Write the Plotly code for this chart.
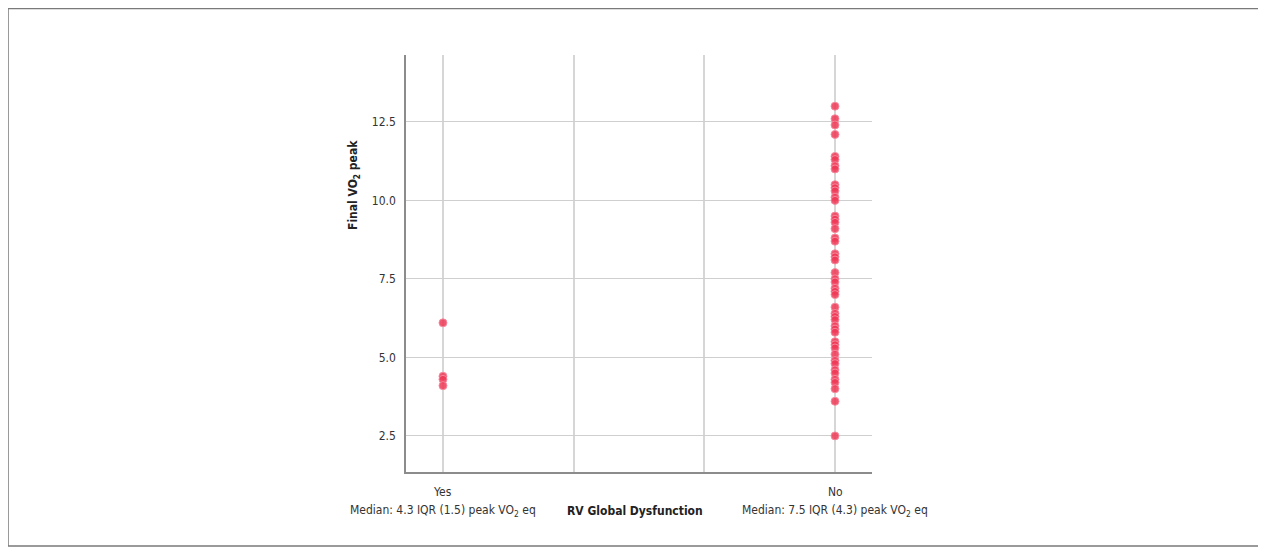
import plotly.graph_objects as go

categories = ["Yes", "No"]
cat_pos = [0, 3]
yes_values = [6.1, 4.4, 4.3, 4.1]
no_values = [13.0, 12.6, 12.4, 12.1, 11.4, 11.3, 11.1, 11.0, 10.5, 10.4, 10.3, 10.1, 10.0,
             9.5, 9.4, 9.3, 9.1, 8.8, 8.7, 8.3, 8.2, 8.1, 7.7, 7.5, 7.4, 7.2, 7.1, 7.0,
             6.6, 6.4, 6.3, 6.2, 6.0, 5.9, 5.8, 5.5, 5.4, 5.3, 5.1, 4.9, 4.8, 4.6, 4.5,
             4.3, 4.2, 4.0, 3.6, 2.5]
y_ticks = [2.5, 5.0, 7.5, 10.0, 12.5]
x_grid = [0, 1, 2, 3]
median_labels = ["Median: 4.3 IQR (1.5) peak VO<sub>2</sub> eq",
                 "Median: 7.5 IQR (4.3) peak VO<sub>2</sub> eq"]
x_title = "RV Global Dysfunction"
y_title = "Final VO<sub>2</sub> peak"

FONT = "DejaVu Sans Condensed, Liberation Sans Narrow, Arial Narrow, sans-serif"
OFF = 8  # page body margin
W, H = 1266 - OFF, 555 - 2 * OFF
L, R, T, B = 406 - OFF, 872 - OFF, 55 - OFF, 472 - OFF

def px(x):
    return (x - OFF - L) / (R - L)

def py(y):
    return (B - (y - OFF)) / (B - T)

marker = dict(size=8, color="rgba(238,56,86,0.85)",
              line=dict(color="rgba(246,140,160,0.9)", width=1))

fig = go.Figure()
for pos, vals in zip(cat_pos, [yes_values, no_values]):
    fig.add_trace(go.Scatter(x=[pos] * len(vals), y=vals, mode="markers",
                             marker=marker, showlegend=False, hoverinfo="y"))

fig.update_layout(
    width=W, height=H,
    margin=dict(l=L, r=W - R, t=T, b=H - B, pad=0),
    paper_bgcolor="white", plot_bgcolor="white",
    font=dict(family=FONT, size=12, color="#333333"),
    xaxis=dict(range=[-0.283, 3.283], tickvals=x_grid, showticklabels=False,
               showgrid=True, gridcolor="#d6d6d6", gridwidth=1.5, zeroline=False,
               showline=True, linecolor="#8c8c8c", linewidth=1.5, ticks=""),
    yaxis=dict(range=[1.35, 14.63], tickvals=y_ticks, tickformat=".1f",
               showgrid=True, gridcolor="#cfcfcf", gridwidth=1, zeroline=False,
               showline=True, linecolor="#8c8c8c", linewidth=1.5, ticks="",
               ticklabelstandoff=6, tickfont=dict(size=12, color="#333333")),
)

# category labels and median notes
for pos, cat, med in zip(cat_pos, categories, median_labels):
    fig.add_annotation(x=pos, y=py(492), xref="x", yref="paper", text=cat,
                       showarrow=False, font=dict(size=12, color="#333333"),
                       xanchor="center", yanchor="middle")
    fig.add_annotation(x=pos, y=py(511), xref="x", yref="paper", text=med,
                       showarrow=False, font=dict(size=12, color="#333333"),
                       xanchor="center", yanchor="middle")

fig.add_annotation(x=px(635), y=py(511), xref="paper", yref="paper",
                   text="<b>" + x_title + "</b>", showarrow=False,
                   font=dict(size=12, color="#222222"), xanchor="center", yanchor="middle")
fig.add_annotation(x=px(354), y=py(185), xref="paper", yref="paper",
                   text="<b>" + y_title + "</b>", showarrow=False, textangle=-90,
                   font=dict(size=12, color="#222222"), xanchor="center", yanchor="middle")

# outer frame
fig.add_shape(type="rect", xref="paper", yref="paper",
              x0=px(8), x1=px(1263), y0=py(546), y1=py(8.5),
              line=dict(color="#7a7a7a", width=1.5), fillcolor="rgba(0,0,0,0)", layer="below")

fig.write_html("out.html")
